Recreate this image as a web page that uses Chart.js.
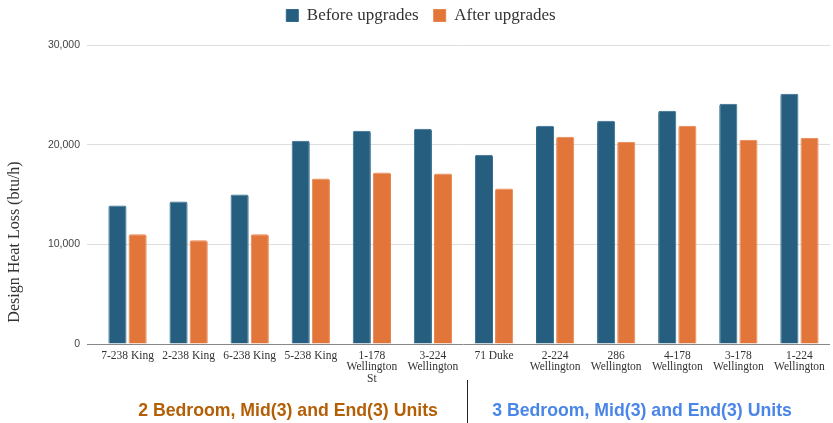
<!DOCTYPE html>
<html>
<head>
<meta charset="utf-8">
<script src="https://cdn.jsdelivr.net/npm/chart.js@4.4.0/dist/chart.umd.min.js"></script>
<style>
  html, body { margin: 0; padding: 0; background: #fff; }
  #wrap { position: relative; width: 833px; height: 423px; overflow: hidden; }
  #c { position: absolute; left: 0; top: 0; }
  .grp { position: absolute; top: 400px; font-family: "Liberation Sans", Arial, sans-serif; font-weight: bold; font-size: 17.7px; white-space: nowrap; transform: translateX(-50%); }
  #g1 { left: 288px; color: #b45f06; }
  #g2 { left: 642px; color: #4a86e8; }
  #divider { position: absolute; left: 467px; top: 380px; width: 1px; height: 43px; background: #222; }
</style>
</head>
<body>
<div id="wrap">
  <canvas id="c" width="833" height="423"></canvas>
  <div class="grp" id="g1">2 Bedroom, Mid(3) and End(3) Units</div>
  <div id="divider"></div>
  <div class="grp" id="g2">3 Bedroom, Mid(3) and End(3) Units</div>
</div>
<script>
const categories = [
  "7-238 King", "2-238 King", "6-238 King", "5-238 King",
  ["1-178", "Wellington", "St"], ["3-224", "Wellington"], "71 Duke",
  ["2-224", "Wellington"], ["286", "Wellington"], ["4-178", "Wellington"],
  ["3-178", "Wellington"], ["1-224", "Wellington"]
];
const beforeUpgrades = [13900, 14300, 15000, 20400, 21400, 21600, 19000, 21900, 22400, 23400, 24100, 25100];
const afterUpgrades  = [11000, 10400, 11000, 16600, 17200, 17100, 15600, 20800, 20300, 21900, 20500, 20700];
const yTicks = [0, 10000, 20000, 30000];
const seriesNames = ["Before upgrades", "After upgrades"];
const yTitle = "Design Heat Loss (btu/h)";

const yTitlePlugin = {
  id: 'yTitlePlugin',
  afterDraw(chart) {
    const ctx = chart.ctx;
    ctx.save();
    ctx.translate(15, 242);
    ctx.rotate(-Math.PI / 2);
    ctx.font = '16px "Liberation Serif", "Times New Roman", serif';
    ctx.fillStyle = '#333';
    ctx.textAlign = 'center';
    ctx.textBaseline = 'middle';
    ctx.fillText(yTitle, 0, 0);
    ctx.restore();
  }
};

const legendHeightPlugin = {
  id: 'legendHeightPlugin',
  afterInit(chart) {
    const lg = chart.legend;
    if (!lg) return;
    const orig = lg.fit;
    lg.fit = function () {
      orig.call(this);
      this.height = 53;
    };
  }
};

new Chart(document.getElementById('c'), {
  type: 'bar',
  data: {
    labels: categories,
    datasets: [
      { label: seriesNames[0], data: beforeUpgrades, backgroundColor: '#265e7f', borderColor: '#2f6a8c', borderWidth: 1, borderRadius: 2,
        barPercentage: 0.9, categoryPercentage: 0.66 },
      { label: seriesNames[1], data: afterUpgrades, backgroundColor: '#e2753a', borderColor: '#e8834c', borderWidth: 1, borderRadius: 2,
        barPercentage: 0.9, categoryPercentage: 0.66 }
    ]
  },
  options: {
    responsive: false,
    animation: false,
    layout: { padding: { left: 12, right: 3, top: -8, bottom: 0 } },
    plugins: {
      legend: {
        position: 'top',
        labels: {
          boxWidth: 12, boxHeight: 12, padding: 15,
          color: '#333',
          font: { family: '"Liberation Serif", "Times New Roman", serif', size: 17 }
        }
      },
      tooltip: { enabled: false }
    },
    scales: {
      x: {
        grid: { display: false, drawTicks: false },
        border: { display: false },
        ticks: {
          color: '#333', padding: 6, maxRotation: 0, autoSkip: false,
          font: { family: '"Liberation Serif", "Times New Roman", serif', size: 11.5, lineHeight: 1.0 }
        },
        afterFit(scale) { scale.height = 79; }
      },
      y: {
        min: 0, max: 30000,
        afterBuildTicks(scale) { scale.ticks = yTicks.map(v => ({ value: v })); },
        grid: {
          color: ctx => (ctx.tick && ctx.tick.value === 0) ? '#888' : '#dedede',
          lineWidth: 1, tickLength: 10
        },
        border: { display: false },
        ticks: {
          color: '#444', padding: 7,
          font: { family: '"Liberation Sans", Arial, sans-serif', size: 10.5 },
          callback: v => v.toLocaleString('en-US')
        },
        afterFit(scale) { scale.width = 85; }
      }
    }
  },
  plugins: [yTitlePlugin, legendHeightPlugin]
});
</script>
</body>
</html>
